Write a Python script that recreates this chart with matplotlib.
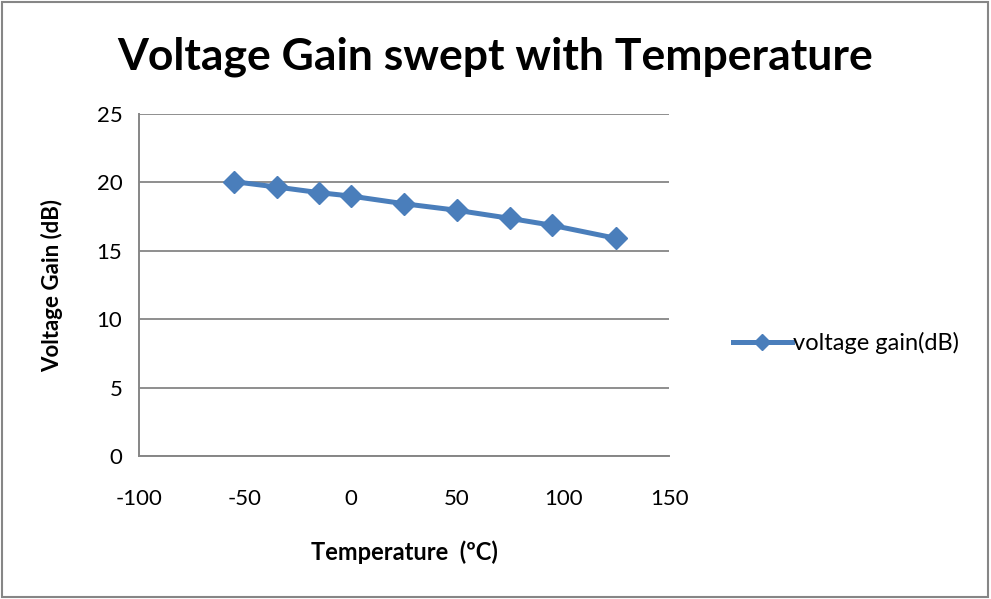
import matplotlib.pyplot as plt
from matplotlib.patches import Rectangle

# Gain measured across the temperature sweep
temperature = [-55, -35, -15, 0, 25, 50, 75, 95, 125]
gain_db = [20.05, 19.66, 19.25, 19.0, 18.44, 17.96, 17.37, 16.86, 15.91]

x_ticks = [-100, -50, 0, 50, 100, 150]
y_ticks = [0, 5, 10, 15, 20, 25]

plt.rcParams['font.family'] = ['Lato', 'DejaVu Sans']
plt.rcParams['axes.unicode_minus'] = False

fig = plt.figure(figsize=(9.91, 5.99), dpi=100)
ax = fig.add_axes([0.1403, 0.2387, 0.5348, 0.571])

line_color = "#4A7EBB"
ax.plot(temperature, gain_db, color=line_color, linewidth=3.6, marker='D',
        markersize=11, label="voltage gain(dB)")

ax.set_xlim(-100, 150)
ax.set_ylim(0, 25)
ax.set_xticks(x_ticks)
ax.set_yticks(y_ticks)
ax.tick_params(labelsize=16, length=0, pad=12)
ax.tick_params(axis='x', pad=24)
ax.yaxis.grid(True, color="#868686", linewidth=1.3)
ax.set_axisbelow(True)
for side in ["top", "right"]:
    ax.spines[side].set_visible(False)
for side in ["left", "bottom"]:
    ax.spines[side].set_color("#868686")
    ax.spines[side].set_linewidth(1.4)

ax.set_xlabel("Temperature  (\u00baC)", fontsize=17, fontweight='bold', labelpad=22)
ax.set_ylabel("Voltage Gain (dB)", fontsize=16, fontweight='bold', labelpad=24)
fig.suptitle("Voltage Gain swept with Temperature", fontsize=32, fontweight='bold',
             x=0.5, y=0.906, va='center')

ax.legend(loc='center left', bbox_to_anchor=(1.08, 0.33), frameon=False,
          fontsize=17, handlelength=2.5, handletextpad=0.05, markerscale=0.75)

# thin grey frame around the whole chart
fig.patches.append(Rectangle((0.002, 0.003), 0.995, 0.994, transform=fig.transFigure,
                             fill=False, edgecolor="#868686", linewidth=1.5))

fig.savefig("out.png", dpi=100)
